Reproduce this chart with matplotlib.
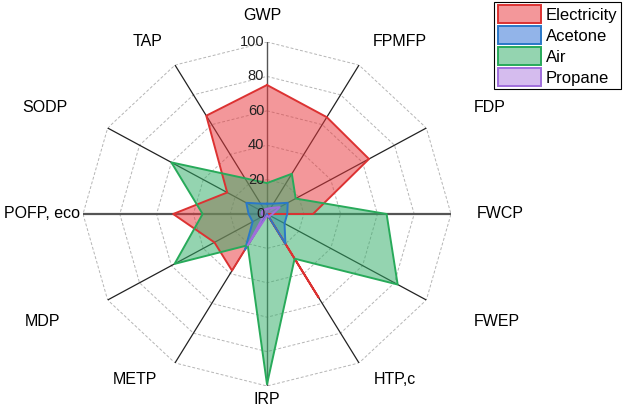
import numpy as np
import matplotlib
matplotlib.use("Agg")
import matplotlib.pyplot as plt
from matplotlib.patches import Patch
import matplotlib.transforms as mtransforms

plt.rcParams["font.family"] = ["Liberation Sans", "DejaVu Sans"]

# impact categories, clockwise from the top
categories = ["GWP", "FPMFP", "FDP", "FWCP", "FWEP", "HTP,c",
              "IRP", "METP", "MDP", "POFP, eco", "SODP", "TAP"]

electricity = [75, 65, 64, 25, 0, 56, 0, 38, 33, 51, 25, 66]
acetone = [6, 7, 13, 11, 11, 20, 0, 24, 9, 10, 13, 7]
air = [18, 27, 18, 65, 82, 30, 99, 21, 58, 35, 60, 24]
propane = [3, 4, 8, 3, 2, 2, 1, 21, 2, 3, 3, 3]

series_names = ["Electricity", "Acetone", "Air", "Propane"]
radial_ticks = [0, 20, 40, 60, 80, 100]

# styling
fill_colors = ["#E8383D", "#2F6FD6", "#33AD68", "#B07FE0"]
edge_colors = ["#DC3232", "#2A78C8", "#28AA5A", "#A06EDC"]

# label centers in pixels (x, y from top) of the 624x420 image
label_pos = [(262, 15), (400, 41), (490, 108), (500, 214), (497, 322), (395, 379),
             (267, 400), (135, 380), (42, 322), (42, 214), (45, 108), (148, 41)]

W, H = 624, 420
fig = plt.figure(figsize=(W / 100, H / 100), dpi=100)
ax = fig.add_axes([83 / W, (H - 386) / H, 368 / W, 344 / H], projection="polar")
ax.set_aspect("auto")
ax.set_theta_zero_location("N")
ax.set_theta_direction(-1)
ax.set_ylim(0, 100)
ax.grid(False)
ax.set_xticks([])
ax.set_yticks([])
ax.spines["polar"].set_visible(False)
ax.patch.set_alpha(0)

n = len(categories)
theta = np.arange(n) * 2 * np.pi / n
theta_c = np.append(theta, theta[0])

# polygon grid rings
for r in radial_ticks[1:]:
    ax.plot(theta_c, [r] * (n + 1), color="#b5b5b5", lw=0.7,
            ls=(0, (3, 2)), zorder=1)

# spokes
for i, t in enumerate(theta):
    if i in (0, 6):
        ax.plot([t, t], [0, 100], color="#555555", lw=1.0, zorder=2)
    elif i in (3, 9):
        ax.plot([t, t], [0, 100], color="#555555", lw=1.6, zorder=2)
    else:
        ax.plot([t, t], [0, 100], color="#222222", lw=0.9, zorder=2)

# data
all_series = [electricity, acetone, air, propane]
for vals, fc, ec in zip(all_series, fill_colors, edge_colors):
    v = np.append(vals, vals[0])
    ax.fill(theta_c, v, color=fc, alpha=0.52, lw=0, zorder=3)
    ax.plot(theta_c, v, color=ec, lw=1.4, zorder=4)

# radial tick labels on the GWP spoke
offset = mtransforms.offset_copy(ax.transData, fig=fig, x=-2, y=0, units="points")
for r in radial_ticks:
    ax.text(0, r, str(r), transform=offset, ha="right", va="center",
            fontsize=10.5, color="#222222", zorder=5)

# category labels
for name, (px, py) in zip(categories, label_pos):
    fig.text(px / W, 1 - py / H, name, ha="center", va="center",
             fontsize=11.5, color="black")

handles = [Patch(facecolor=matplotlib.colors.to_rgba(fc, 0.52),
                 edgecolor=ec, lw=1.4) for fc, ec in zip(fill_colors, edge_colors)]
leg = fig.legend(handles, series_names, loc="upper right",
                 bbox_to_anchor=(621 / W, 1 - 2 / H), fontsize=12,
                 frameon=True, fancybox=False, framealpha=1,
                 edgecolor="black", handlelength=2.6, handleheight=1.25,
                 labelspacing=0.2, handletextpad=0.3, borderpad=0.2,
                 borderaxespad=0)
leg.get_frame().set_linewidth(0.8)

fig.savefig("out.png", dpi=100)
